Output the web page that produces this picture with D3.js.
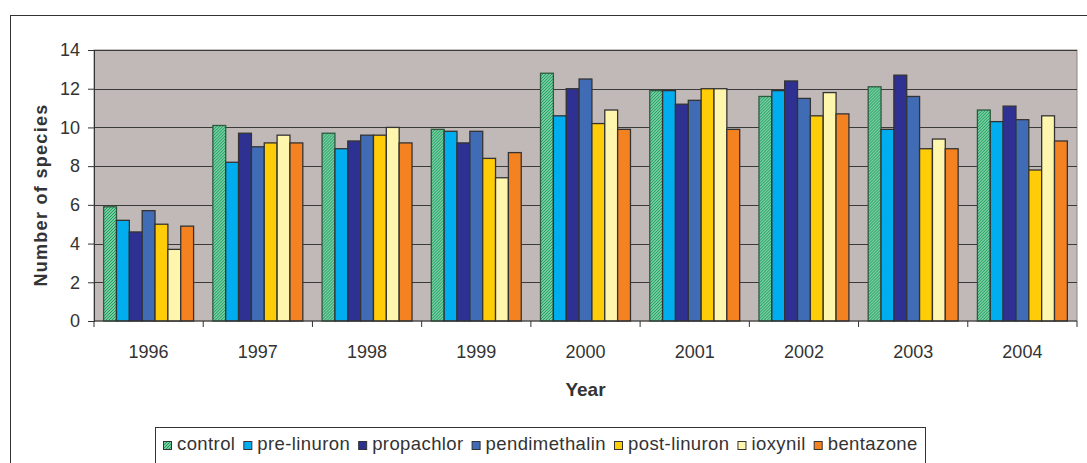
<!DOCTYPE html>
<html>
<meta charset="utf-8">
<script src="https://d3js.org/d3.v7.min.js"></script>
<style>
  body { margin: 0; background: #fff; }
  text { font-family: "Liberation Sans", Arial, sans-serif; fill: #333; }
</style>
<div id="chart"></div>
<script>

// data
var years = ["1996", "1997", "1998", "1999", "2000", "2001", "2002", "2003", "2004"]
var treatments = ["control", "pre-linuron", "propachlor", "pendimethalin", "post-linuron", "ioxynil", "bentazone"]

var control       = [5.9, 10.1, 9.7, 9.9, 12.8, 11.9, 11.6, 12.1, 10.9]
var preLinuron    = [5.2, 8.2, 8.9, 9.8, 10.6, 11.9, 11.9, 9.9, 10.3]
var propachlor    = [4.6, 9.7, 9.3, 9.2, 12.0, 11.2, 12.4, 12.7, 11.1]
var pendimethalin = [5.7, 9.0, 9.6, 9.8, 12.5, 11.4, 11.5, 11.6, 10.4]
var postLinuron   = [5.0, 9.2, 9.6, 8.4, 10.2, 12.0, 10.6, 8.9, 7.8]
var ioxynil       = [3.7, 9.6, 10.0, 7.4, 10.9, 12.0, 11.8, 9.4, 10.6]
var bentazone     = [4.9, 9.2, 9.2, 8.7, 9.9, 9.9, 10.7, 8.9, 9.3]

var yTicks = [0, 2, 4, 6, 8, 10, 12, 14]

var series = [control, preLinuron, propachlor, pendimethalin, postLinuron, ioxynil, bentazone]
var colors = ["url(#hatch)", "#00aeef", "#2e3192", "#3f6cb4", "#ffcc08", "#fff6ae", "#f58220"]

var W = 1087, H = 463
var margin = {top: 50, right: 10, bottom: 142, left: 94}
var width = 1077 - margin.left, height = 321 - margin.top

var svg = d3.select("#chart").append("svg")
  .attr("width", W)
  .attr("height", H)

var defs = svg.append("defs")
var pat = defs.append("pattern")
  .attr("id", "hatch")
  .attr("patternUnits", "userSpaceOnUse")
  .attr("width", 3).attr("height", 3)
pat.append("rect").attr("width", 3).attr("height", 3).attr("fill", "#dff5e8")
pat.append("path")
  .attr("d", "M-1,1 l2,-2 M0,3 l3,-3 M2,4 l2,-2")
  .attr("stroke", "#14a05a")
  .attr("stroke-width", 1.4)

// outer frame
svg.append("rect")
  .attr("x", 10.5).attr("y", 15.5)
  .attr("width", W).attr("height", H)
  .attr("fill", "none")
  .attr("stroke", "#333")

var g = svg.append("g")
  .attr("transform", "translate(" + margin.left + "," + margin.top + ")")

var x = d3.scaleBand()
  .domain(years)
  .range([0, width])
  .padding(0)

var xs = d3.scaleBand()
  .domain(d3.range(treatments.length))
  .range([0, x.bandwidth()])
  .paddingInner(0)
  .paddingOuter(0.75)

var y = d3.scaleLinear()
  .domain([0, 14])
  .range([height, 0])

g.append("rect")
  .attr("width", width)
  .attr("height", height)
  .attr("fill", "#c1b9b7")
  .attr("stroke", "#8f8584")

g.append("g")
  .selectAll("line")
  .data(yTicks.slice(1))
  .join("line")
  .attr("x1", 0).attr("x2", width)
  .attr("y1", function(d) { return Math.round(y(d)) + 0.5 })
  .attr("y2", function(d) { return Math.round(y(d)) + 0.5 })
  .attr("stroke", "#3a3a3a")

var groups = g.append("g")
  .selectAll("g")
  .data(years)
  .join("g")
  .attr("transform", function(d) { return "translate(" + x(d) + ",0)" })

groups.selectAll("rect")
  .data(function(d, i) { return series.map(function(s, k) { return {k: k, v: s[i]} }) })
  .join("rect")
  .attr("x", function(d) { return xs(d.k) })
  .attr("y", function(d) { return y(d.v) })
  .attr("width", xs.bandwidth())
  .attr("height", function(d) { return height - y(d.v) })
  .attr("fill", function(d) { return colors[d.k] })
  .attr("stroke", function(d) { return d.k == 0 ? "#2f5a40" : "#333" })
  .attr("stroke-width", 1.3)

// y axis
var yAxis = g.append("g")
  .call(d3.axisLeft(y).tickValues(yTicks).tickSize(6).tickPadding(8))
yAxis.select(".domain").attr("stroke", "#333")
yAxis.selectAll(".tick line").attr("stroke", "#333")
yAxis.selectAll("text")
  .style("font-size", "18px")
  .attr("fill", "#333")

// x axis, ticks between the years
var xAxis = g.append("g")
  .attr("transform", "translate(0," + height + ")")
xAxis.append("line")
  .attr("x1", 0).attr("x2", width)
  .attr("stroke", "#333")
xAxis.selectAll(".sep")
  .data(years.concat(["end"]))
  .join("line")
  .attr("class", "sep")
  .attr("x1", function(d, i) { return i < years.length ? x(d) : width })
  .attr("x2", function(d, i) { return i < years.length ? x(d) : width })
  .attr("y1", 0).attr("y2", 6)
  .attr("stroke", "#333")
xAxis.selectAll("text")
  .data(years)
  .join("text")
  .attr("x", function(d) { return x(d) + x.bandwidth() / 2 })
  .attr("y", 37)
  .attr("text-anchor", "middle")
  .style("font-size", "18px")
  .text(function(d) { return d })

// axis titles
svg.append("text")
  .attr("x", margin.left + width / 2)
  .attr("y", 396)
  .attr("text-anchor", "middle")
  .style("font-size", "19px")
  .style("font-weight", "bold")
  .text("Year")

svg.append("text")
  .attr("transform", "translate(47,195) rotate(-90)")
  .attr("text-anchor", "middle")
  .style("font-size", "18px")
  .style("font-weight", "bold")
  .style("letter-spacing", "1.3px")
  .text("Number of species")

// legend
var legend = svg.append("g")
legend.append("rect")
  .attr("x", 155.5).attr("y", 427.5)
  .attr("width", 770).attr("height", 60)
  .attr("fill", "#fff")
  .attr("stroke", "#333")

var lx = 163
treatments.forEach(function(name, k) {
  legend.append("rect")
    .attr("x", lx + 0.5).attr("y", 441.5)
    .attr("width", 8).attr("height", 8)
    .attr("fill", colors[k])
    .attr("stroke", "#333")
  var t = legend.append("text")
    .attr("x", lx + 14)
    .attr("y", 450)
    .style("font-size", "18.5px")
    .style("letter-spacing", "0.4px")
    .text(name)
  lx = lx + 14 + t.node().getComputedTextLength() + 8
})

</script>
</html>
